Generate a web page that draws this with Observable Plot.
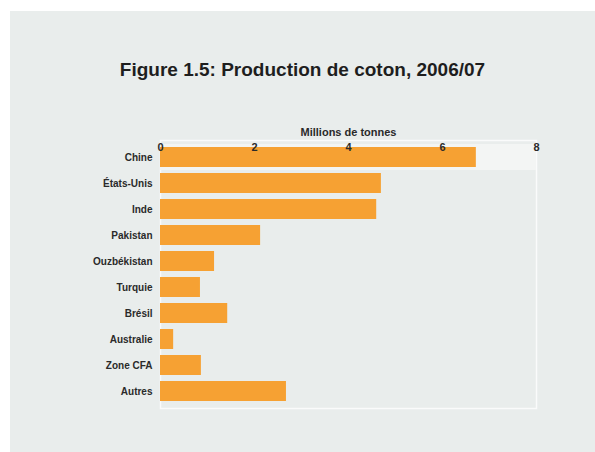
<!DOCTYPE html>
<html>
<head>
<meta charset="utf-8">
<script src="https://cdn.jsdelivr.net/npm/d3@7"></script>
<script src="https://cdn.jsdelivr.net/npm/@observablehq/plot@0.6"></script>
<style>
  html, body { margin: 0; padding: 0; background: #ffffff; }
  #wrap { position: relative; width: 595px; height: 452px; overflow: hidden; }
  #panel { position: absolute; left: 10px; top: 11px; width: 585px; height: 441px; background: #e9edec; }
  #title { position: absolute; left: 10px; width: 585px; top: 59px; text-align: center;
           font-family: "Liberation Sans", Arial, sans-serif; font-weight: bold; font-size: 19px; color: #1e1e1e; }
  #chart { position: absolute; left: 0; top: 0; }
</style>
</head>
<body>
<div id="wrap">
  <div id="panel"></div>
  <div id="title">Figure 1.5: Production de coton, 2006/07</div>
  <div id="chart"></div>
</div>
<script>
const countries = ["Chine", "États-Unis", "Inde", "Pakistan", "Ouzbékistan", "Turquie", "Brésil", "Australie", "Zone CFA", "Autres"];
const production = [6.72, 4.70, 4.60, 2.13, 1.15, 0.85, 1.43, 0.28, 0.87, 2.68];
const xTicks = [0, 2, 4, 6, 8];
const xLabel = "Millions de tonnes";

const data = countries.map((c, i) => ({country: c, value: production[i]}));
const orange = "#f6a133";

const plot = Plot.plot({
  width: 595,
  height: 452,
  marginLeft: 160,
  marginRight: 59,
  marginTop: 140,
  marginBottom: 44,
  style: {background: "transparent", fontFamily: "'Liberation Sans', Arial, sans-serif"},
  x: {domain: [0, d3.max(xTicks)], ticks: xTicks},
  y: {domain: countries, padding: 0.25, label: null},
  marks: [
    Plot.frame({stroke: "#fafbfb", strokeWidth: 1.5}),
    Plot.barX([countries[0]], {y: d => d, x1: 0, x2: d3.max(xTicks), fill: "#f3f5f4", insetTop: -3, insetBottom: -3}),
    Plot.barX(data, {y: "country", x: "value", fill: orange}),
    Plot.axisX({anchor: "top", ticks: xTicks, tickSize: 0, tickPadding: 0, dy: 10,
      fontWeight: "bold", fontSize: 11, fill: "#2a2a2a", label: xLabel, labelAnchor: "center", labelArrow: "none", labelOffset: 12}),
    Plot.axisY({anchor: "left", tickSize: 0, tickPadding: 8, fontWeight: "bold", fontSize: 10, fill: "#2a2a2a", label: null})
  ]
});
document.getElementById("chart").appendChild(plot);
</script>
</body>
</html>
